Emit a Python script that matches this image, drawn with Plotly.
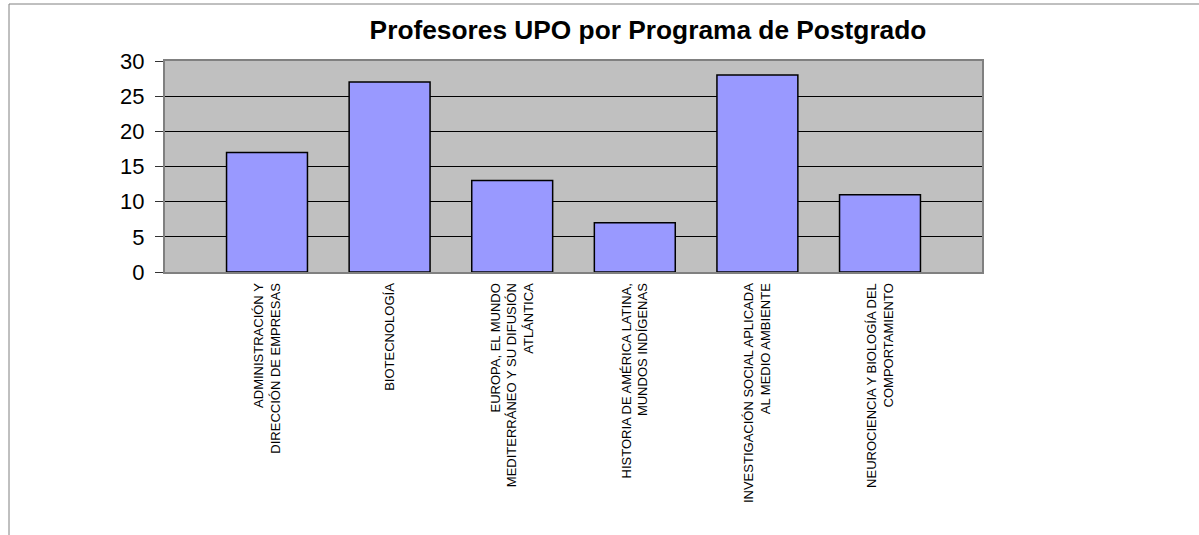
import plotly.graph_objects as go

categories = [
    "ADMINISTRACIÓN Y<br>DIRECCIÓN DE EMPRESAS",
    "BIOTECNOLOGÍA",
    "EUROPA, EL MUNDO<br>MEDITERRÁNEO Y SU DIFUSIÓN<br>ATLÁNTICA",
    "HISTORIA DE AMÉRICA LATINA,<br>MUNDOS INDÍGENAS",
    "INVESTIGACIÓN SOCIAL APLICADA<br>AL MEDIO AMBIENTE",
    "NEUROCIENCIA Y BIOLOGÍA DEL<br>COMPORTAMIENTO",
]
profesores = [17, 27, 13, 7, 28, 11]
y_ticks = [0, 5, 10, 15, 20, 25, 30]

W, H = 1199, 535
L, R, T, B = 165, 217, 61, 263
pw, ph = W - L - R, H - T - B

fig = go.Figure()
fig.add_trace(go.Bar(
    x=categories, y=profesores,
    marker=dict(color="#9999FF", line=dict(color="#000000", width=1.5)),
    showlegend=False,
))

# outer chart frame (top and left edges visible)
fx = (9 - L) / pw
fy = 1 + (T - 4) / ph
fig.add_shape(type="line", xref="paper", yref="paper", x0=fx, x1=2, y0=fy, y1=fy,
              line=dict(color="#808080", width=1))
fig.add_shape(type="line", xref="paper", yref="paper", x0=fx, x1=fx, y0=fy, y1=-3,
              line=dict(color="#808080", width=1))

fig.update_layout(
    width=W, height=H,
    margin=dict(l=L, r=R, t=T, b=B, autoexpand=False),
    paper_bgcolor="#FFFFFF",
    plot_bgcolor="#C0C0C0",
    bargap=0.34,
    title=dict(text="<b>Profesores UPO por Programa de Postgrado</b>",
               x=648 / W, xanchor="center", y=1 - 30 / H, yanchor="middle",
               font=dict(family="Liberation Sans, Arial", size=26.3, color="#000000")),
    xaxis=dict(
        type="category", range=[-0.832, 5.832],
        showline=True, linecolor="#808080", linewidth=2, mirror=True,
        showgrid=False, ticks="", tickangle=-90, ticklabelstandoff=4,
        tickfont=dict(family="Liberation Sans, Arial", size=13, color="#000000"),
    ),
    yaxis=dict(
        range=[0, 30], tickvals=y_ticks,
        showline=True, linecolor="#808080", linewidth=2, mirror=True,
        showgrid=True, gridcolor="#000000", gridwidth=1, zeroline=False,
        ticks="outside", ticklen=8, tickcolor="#333333", tickwidth=1,
        ticklabelstandoff=6,
        tickfont=dict(family="Liberation Sans, Arial", size=22, color="#000000"),
    ),
)

fig.write_html("out.html",
               config={"displayModeBar": False},
               post_script="document.body.style.margin='0';document.body.style.overflow='hidden';")
